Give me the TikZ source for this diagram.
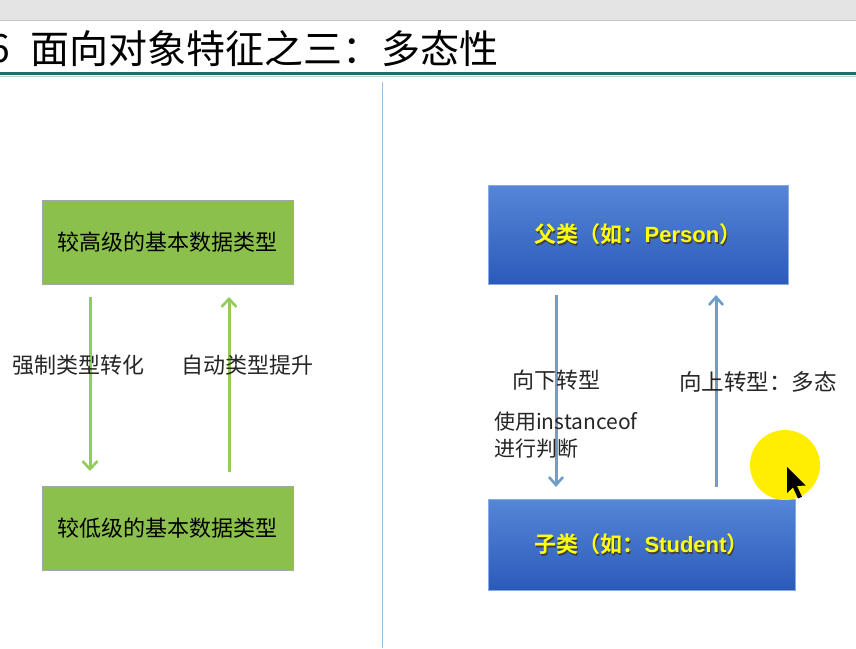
\documentclass[tikz,border=0pt]{standalone}
\usepackage{fontspec}
\usetikzlibrary{arrows.meta}
\newfontfamily\cjk{Noto Sans CJK SC}
\newfontfamily\cjkbold{Noto Sans CJK SC Bold}
\newfontfamily\latb{Liberation Sans Bold}
\definecolor{bandgray}{HTML}{E4E4E4}
\definecolor{ruleteal}{HTML}{1B6E67}
\definecolor{divblue}{HTML}{9DC0E0}
\definecolor{boxgreen}{HTML}{8CC04C}
\definecolor{arrgreen}{HTML}{92CC5A}
\definecolor{bluetop}{HTML}{5686D6}
\definecolor{bluebot}{HTML}{2A5BBB}
\definecolor{arrblue}{HTML}{6E9ECB}
\definecolor{txtyellow}{HTML}{FFFF10}
\definecolor{spot}{HTML}{FFEE00}
\tikzset{
  greenbox/.style={draw=gray!70, line width=0.8pt, fill=boxgreen, minimum width=251pt, minimum height=84pt, inner sep=0pt, font=\cjk\fontsize{22}{26}\selectfont},
  bluebox/.style={draw=bluetop!70!white, line width=0.8pt, top color=bluetop, bottom color=bluebot, inner sep=0pt},
  greenarrow/.style={draw=arrgreen, line width=3pt, -{Straight Barb[length=8pt,width=15pt,line width=2.6pt]}},
  bluearrow/.style={draw=arrblue, line width=3pt, -{Straight Barb[length=8pt,width=14pt,line width=2.6pt]}},
  lbl/.style={font=\cjk\fontsize{22}{26}\selectfont, inner sep=0pt, text=black!85},
  shadowtxt/.style={text=black!75, inner sep=0pt},
  yellowtxt/.style={text=txtyellow, inner sep=0pt}
}
\newcommand{\parenttext}{{\cjkbold\fontsize{22}{26}\selectfont 父类（如：}{\latb\fontsize{22}{26}\selectfont Person}{\cjkbold\fontsize{22}{26}\selectfont ）}}
\newcommand{\childtext}{{\cjkbold\fontsize{22}{26}\selectfont 子类（如：}{\latb\fontsize{22}{26}\selectfont Student}{\cjkbold\fontsize{22}{26}\selectfont ）}}
\begin{document}
\begin{tikzpicture}[x=1pt,y=-1pt]
  \useasboundingbox (0,0) rectangle (856,648);
  \clip (0,0) rectangle (856,648);
  \fill[white] (0,0) rectangle (856,648);

  % window band and title
  \fill[bandgray] (0,0) rectangle (856,20);
  \draw[gray!45, line width=1pt] (0,20.5) -- (856,20.5);
  \node[anchor=east, inner sep=0pt, font=\cjk\fontsize{39}{42}\selectfont] (num) at (10,49) {6};
  \node[anchor=west, inner sep=0pt, font=\cjk\fontsize{39}{42}\selectfont] (title) at (30,49) {面向对象特征之三：多态性};
  \draw[ruleteal, line width=3pt] (0,73.5) -- (856,73.5);
  \draw[gray!40, line width=0.8pt] (0,76) -- (856,76);

  % divider
  \coordinate (divtop) at (382.5,82);
  \coordinate (divbot) at (382.5,648);
  \draw[divblue, line width=1.5pt] (divtop) -- (divbot);

  % primitive type conversion
  \node[greenbox] (high) at (167.5,242) {较高级的基本数据类型};
  \node[greenbox] (low) at (167.5,528.5) {较低级的基本数据类型};
  \coordinate (d1) at (90,297);
  \coordinate (d2) at (90,471);
  \coordinate (u1) at (229,472);
  \coordinate (u2) at (229,297);
  \draw[greenarrow] (d1) -- (d2);
  \draw[greenarrow] (u1) -- (u2);
  \node[lbl] (cast) at (78.5,365) {强制类型转化};
  \node[lbl] (promote) at (247,365) {自动类型提升};

  % class hierarchy
  \node[bluebox, minimum width=300pt, minimum height=99pt] (parent) at (638,234.5) {};
  \node[bluebox, minimum width=307pt, minimum height=91pt] (child) at (641.5,544.5) {};
  \node[shadowtxt] (parentsh) at ([shift={(1.2,1.2)}]parent.center) {\parenttext};
  \node[yellowtxt] (parentlbl) at (parent.center) {\parenttext};
  \node[shadowtxt] (childsh) at ([shift={(1.2,1.2)}]child.center) {\childtext};
  \node[yellowtxt] (childlbl) at (child.center) {\childtext};

  \coordinate (bd1) at (556,295);
  \coordinate (bd2) at (556,487);
  \coordinate (bu1) at (716,487);
  \coordinate (bu2) at (716,295);
  \draw[bluearrow] (bd1) -- (bd2);
  \draw[bluearrow] (bu1) -- (bu2);
  \node[lbl, anchor=west] (down) at (512,380) {向下转型};
  \node[lbl, anchor=west, font=\cjk\fontsize{22.5}{26}\selectfont] (up) at (679,382) {向上转型：多态};
  \node[lbl, anchor=north west, align=left, font=\cjk\fontsize{21}{27}\selectfont] (check) at (494,412) {使用instanceof\\进行判断};

  % pointer highlight
  \fill[spot] (785,465) circle (35);
  \fill[black] (787,467) -- (787,493) -- (793,487.5) -- (798,498.5) -- (802,496.8) -- (797,486) -- (805.5,485.5) -- cycle;
\end{tikzpicture}
\end{document}
